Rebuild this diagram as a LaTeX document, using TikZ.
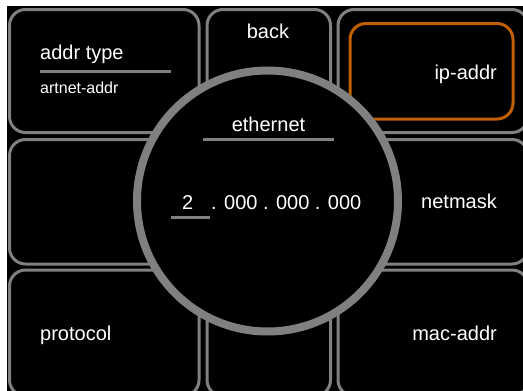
\documentclass[tikz,border=0pt]{standalone}
\usepackage{fontspec}
\setmainfont{Liberation Sans}

\definecolor{framegray}{RGB}{128,128,128}
\definecolor{selorange}{RGB}{192,96,0}

\begin{document}
\begin{tikzpicture}[x=1pt, y=-1pt,
    tile/.style={draw=framegray, line width=3pt, rounded corners=16pt},
    selected/.style={draw=selorange, line width=3pt, rounded corners=16pt},
    dial/.style={circle, draw=framegray, fill=black, line width=8pt, minimum size=261pt},
    menu_label/.style={text=white, inner sep=0pt, font=\fontsize{20}{24}\selectfont},
    small_label/.style={text=white, inner sep=0pt, font=\fontsize{16}{19}\selectfont},
    bar/.style={draw=framegray, line width=3pt}
]

% Page and screen
\useasboundingbox (0,0) rectangle (523,391);
\fill[black] (7,6) rectangle (523,391);

% Tiles
\begin{scope}
\clip (7,6) rectangle (523,391);
\foreach \xa/\xb in {9.5/199, 207/330.5, 338/528} {
    \foreach \ya/\yb in {9.5/132.5, 139.5/264, 270/396} {
        \draw[tile] (\xa,\ya) rectangle (\xb,\yb);
    }
}
\end{scope}

% Selected tile
\draw[selected] (350,23.5) rectangle (513,119);

% Dial
\node[dial] (dial) at (267.5,201) {};

% Tile labels
\node[menu_label, anchor=base] (back) at (268,38) {back};
\node[menu_label, anchor=base west] (addrtype) at (40,59) {addr type};
\node[small_label, anchor=base west] (artnet) at (40,93) {artnet-addr};
\node[menu_label, anchor=base east] (ipaddr) at (497,79) {ip-addr};
\node[menu_label, anchor=base east] (netmask) at (497,208) {netmask};
\node[menu_label, anchor=base west] (protocol) at (40,340) {protocol};
\node[menu_label, anchor=base east] (macaddr) at (497,340) {mac-addr};

% Dial content
\node[menu_label, anchor=base] (ethernet) at (268.5,131) {ethernet};
\node[menu_label, anchor=base west] (octet) at (182,209) {2};
\node[menu_label, anchor=base west] (rest) at (211,209) {. 000 . 000 . 000};

% Underlines
\draw[bar] (40,71) -- (171,71);
\draw[bar] (203,139) -- (334,139);
\draw[bar] (171,217) -- (210,217);

\end{tikzpicture}
\end{document}
